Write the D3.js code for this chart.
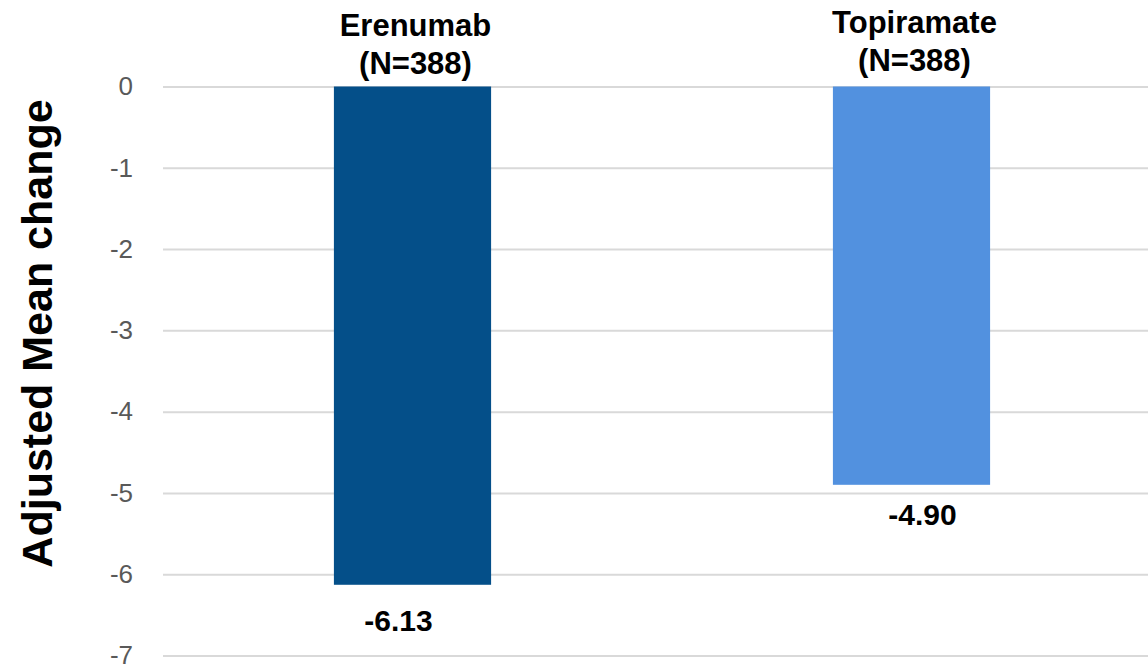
<!DOCTYPE html>
<html>
<head>
<meta charset="utf-8">
<script src="https://cdn.jsdelivr.net/npm/d3@7"></script>
<style>
  html, body { margin: 0; padding: 0; background: #ffffff; }
  svg { display: block; font-family: "Liberation Sans", Arial, sans-serif; }
</style>
</head>
<body>
<svg id="chart" width="1148" height="667"></svg>
<script>
// Treatment groups and their adjusted mean change
const categories = ["Erenumab", "Topiramate"];
const groupSizes = ["(N=388)", "(N=388)"];
const values = [-6.13, -4.90];
const barColors = ["#044F89", "#5291DF"];
const yTicks = [0, -1, -2, -3, -4, -5, -6, -7];
const yTitle = "Adjusted Mean change";

// Hand-placed value label nudges (dx, dy below bar end)
const labelNudge = [[-14, 46], [11, 40]];

const svg = d3.select("#chart");
const W = 1148, H = 667;
const plot = { left: 163, right: 1161, top: 86.5, bottom: 655.5 };

const x = d3.scaleBand()
  .domain(categories)
  .range([plot.left, plot.right])
  .padding(0);
const barWidth = x.bandwidth() * 0.315;

const y = d3.scaleLinear()
  .domain([-7, 0])
  .range([plot.bottom, plot.top]);

// Horizontal gridlines with value labels
const yAxis = d3.axisLeft(y)
  .tickValues(yTicks)
  .tickSize(-(W - plot.left))
  .tickPadding(30)
  .tickFormat(d3.format("d"));

const gy = svg.append("g")
  .attr("transform", `translate(${plot.left},0)`)
  .call(yAxis);
gy.select(".domain").remove();
gy.selectAll(".tick line")
  .attr("stroke", "#d9d9d9")
  .attr("stroke-width", 2);
gy.selectAll(".tick text")
  .attr("fill", "#595959")
  .attr("font-size", 26)
  .attr("font-family", "'Liberation Sans', Arial, sans-serif")
  .text(d => d === 0 ? "0" : "-" + Math.abs(d));

// Bars hang down from zero
svg.append("g").selectAll("rect")
  .data(values)
  .join("rect")
  .attr("x", (d, i) => x(categories[i]) + (x.bandwidth() - barWidth) / 2)
  .attr("y", y(0))
  .attr("width", barWidth)
  .attr("height", d => y(d) - y(0))
  .attr("fill", (d, i) => barColors[i]);

// Category headers above the bars
const headers = svg.append("g")
  .attr("font-weight", "bold")
  .attr("font-size", 31)
  .attr("fill", "#000")
  .attr("text-anchor", "middle");
categories.forEach((c, i) => {
  const cx = x(c) + x.bandwidth() / 2 + 3;
  const shift = i === 0 ? 0 : -3;
  headers.append("text")
    .attr("x", cx)
    .attr("y", 36 + shift)
    .text(c);
  headers.append("text")
    .attr("x", cx)
    .attr("y", 74 + shift)
    .text(groupSizes[i]);
});

// Value labels under each bar
svg.append("g").selectAll("text")
  .data(values)
  .join("text")
  .attr("x", (d, i) => x(categories[i]) + x.bandwidth() / 2 + labelNudge[i][0])
  .attr("y", (d, i) => y(d) + labelNudge[i][1])
  .attr("text-anchor", "middle")
  .attr("font-weight", "bold")
  .attr("font-size", 30)
  .attr("fill", "#000")
  .text(d => d.toFixed(2));

// Y axis title
svg.append("text")
  .attr("transform", `translate(52,${(100 + 567) / 2}) rotate(-90)`)
  .attr("text-anchor", "middle")
  .attr("font-weight", "bold")
  .attr("font-size", 43)
  .attr("fill", "#000")
  .text(yTitle);
</script>
</body>
</html>
